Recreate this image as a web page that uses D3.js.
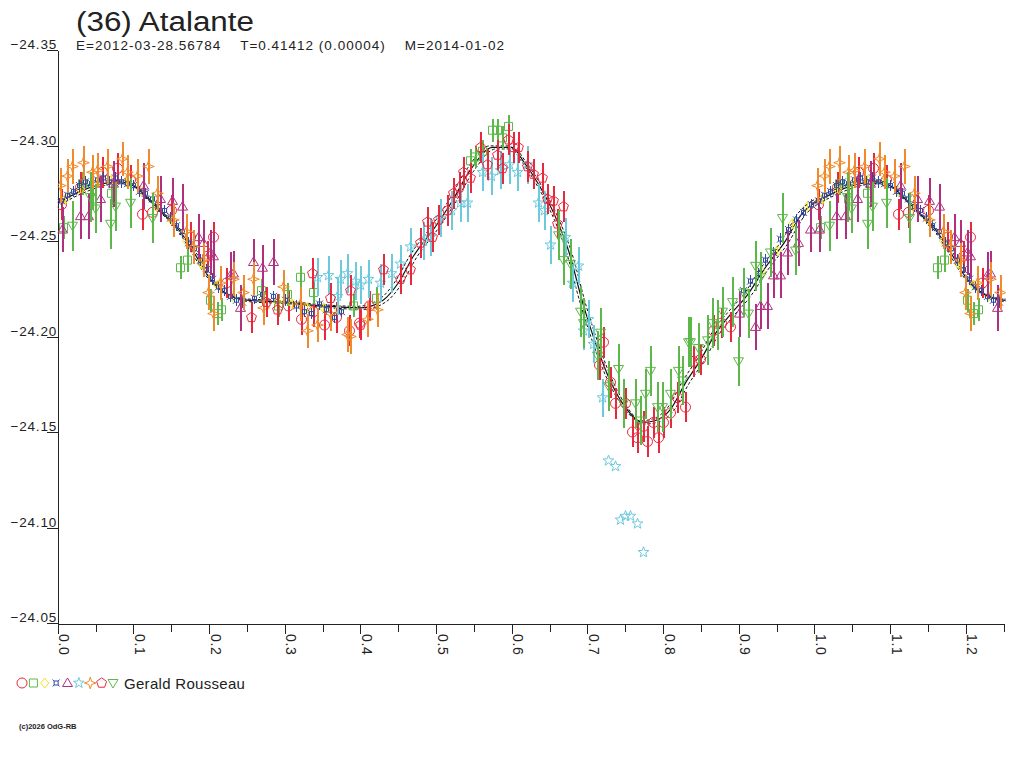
<!DOCTYPE html>
<html><head><meta charset="utf-8">
<script src="https://cdn.jsdelivr.net/npm/d3@7"></script>
<style>
body{margin:0;background:#fff}
svg{display:block}
text{font-family:"Liberation Sans",Arial,sans-serif;fill:#222}
</style>
</head><body>
<svg id="chart" width="1024" height="768"></svg>
<script>
// ---------- DATA ----------
const titleText = "(36) Atalante";
const subtitleText = "E=2012-03-28.56784    T=0.41412 (0.00004)    M=2014-01-02";
const observerName = "Gerald Rousseau";
const copyrightText = "(c)2026 OdG-RB";

const yTickValues = [-24.35, -24.30, -24.25, -24.20, -24.15, -24.10, -24.05];
const xMajorTicks = [0.0,0.1,0.2,0.3,0.4,0.5,0.6,0.7,0.8,0.9,1.0,1.1,1.2];
const xMinorTicks = [0.05,0.15,0.25,0.35,0.45,0.55,0.65,0.75,0.85,0.95,1.05,1.15,1.25];

// fitted light curve (phase, magnitude)
const curvePhase = [0.00,0.03,0.06,0.08,0.10,0.12,0.14,0.16,0.18,0.20,0.22,0.25,0.30,0.35,0.40,0.43,0.45,0.47,0.50,0.52,0.545,0.575,0.60,0.615,0.635,0.655,0.675,0.695,0.713,0.73,0.75,0.773,0.79,0.81,0.83,0.85,0.87,0.89,0.91,0.935,0.96,0.985,1.00];
const curveMag = [-24.270,-24.276,-24.280,-24.281,-24.279,-24.272,-24.264,-24.256,-24.244,-24.231,-24.223,-24.219,-24.218,-24.216,-24.215,-24.219,-24.228,-24.242,-24.258,-24.270,-24.287,-24.299,-24.299,-24.292,-24.280,-24.265,-24.245,-24.216,-24.194,-24.177,-24.163,-24.155,-24.156,-24.162,-24.176,-24.188,-24.202,-24.212,-24.221,-24.236,-24.249,-24.265,-24.270];

// observations per session: [phase, magnitude]
const redCircle = [[0.005,-24.269],[0.030,-24.278],[0.058,-24.286],[0.078,-24.288],[0.095,-24.282],[0.111,-24.264],[0.124,-24.265],[0.150,-24.266],[0.175,-24.252],[0.197,-24.242],[0.205,-24.252],[0.222,-24.228],
 [0.305,-24.216],[0.322,-24.209],[0.338,-24.213],[0.352,-24.206],[0.368,-24.210],[0.385,-24.203],[0.398,-24.207],[0.412,-24.216],
 [0.715,-24.185],[0.721,-24.197],[0.730,-24.176],[0.736,-24.165],[0.750,-24.165],[0.759,-24.150],[0.766,-24.147],[0.773,-24.153],[0.779,-24.145],[0.787,-24.155],[0.793,-24.147],[0.800,-24.155],[0.809,-24.160],[0.818,-24.168],[0.829,-24.163],[0.840,-24.187],[0.849,-24.188],[0.866,-24.203],[0.876,-24.207],[0.888,-24.205]];
const greenSquare = [[0.007,-24.257],[0.032,-24.280],[0.045,-24.272],[0.070,-24.275],[0.162,-24.236],[0.171,-24.240],[0.201,-24.219],[0.210,-24.212],[0.216,-24.214],[0.269,-24.224],[0.291,-24.216],[0.303,-24.222],[0.320,-24.231],[0.338,-24.223],[0.390,-24.216],[0.420,-24.220],[0.545,-24.292],[0.551,-24.294],[0.561,-24.297],[0.574,-24.308],[0.581,-24.308],[0.587,-24.304],[0.595,-24.310]];
const yellowDiamond = [[0.010,-24.272],[0.030,-24.277],[0.050,-24.280],[0.070,-24.282],[0.090,-24.281],[0.110,-24.276],[0.130,-24.268],[0.150,-24.261],[0.170,-24.250],[0.190,-24.238],[0.210,-24.227],[0.230,-24.221],[0.290,-24.218],[0.310,-24.217],[0.330,-24.215],[0.350,-24.215],[0.370,-24.214],[0.930,-24.234],[0.950,-24.245],[0.970,-24.259],[0.990,-24.268]];
const blueCross = [[0.005,-24.271],[0.012,-24.274],[0.020,-24.276],[0.028,-24.279],[0.036,-24.281],[0.044,-24.280],[0.052,-24.282],[0.060,-24.283],[0.068,-24.281],[0.076,-24.283],[0.084,-24.281],[0.092,-24.280],[0.100,-24.279],[0.108,-24.276],[0.116,-24.275],[0.124,-24.272],[0.132,-24.268],[0.140,-24.266],[0.148,-24.262],[0.156,-24.258],[0.164,-24.255],[0.172,-24.249],[0.180,-24.246],[0.188,-24.240],[0.196,-24.235],[0.204,-24.230],[0.212,-24.226],[0.220,-24.224],[0.228,-24.221],[0.236,-24.219],[0.244,-24.218],
 [0.260,-24.220],[0.270,-24.222],[0.285,-24.221],[0.300,-24.219],[0.315,-24.216],[0.325,-24.213],[0.335,-24.212],[0.345,-24.217],[0.355,-24.214],[0.365,-24.210],[0.375,-24.213],
 [0.905,-24.224],[0.915,-24.229],[0.925,-24.233],[0.935,-24.240],[0.945,-24.244],[0.955,-24.251],[0.965,-24.256],[0.975,-24.261],[0.985,-24.265],[0.995,-24.269]];
const purpleTriangle = [[0.006,-24.256],[0.029,-24.263],[0.040,-24.263],[0.056,-24.272],[0.073,-24.280],[0.113,-24.279],[0.135,-24.272],[0.151,-24.271],[0.164,-24.268],[0.185,-24.252],[0.192,-24.249],[0.201,-24.244],[0.205,-24.242],[0.228,-24.232],[0.232,-24.233],[0.241,-24.215],[0.258,-24.239],[0.270,-24.236],[0.285,-24.239],
 [0.900,-24.212],[0.921,-24.205],[0.928,-24.216],[0.937,-24.216],[0.945,-24.232],[0.954,-24.232],[0.964,-24.244],[0.978,-24.249],[0.994,-24.256]];
const cyanStar = [[0.343,-24.231],[0.357,-24.232],[0.369,-24.221],[0.373,-24.230],[0.382,-24.233],[0.393,-24.229],[0.400,-24.227],[0.410,-24.230],[0.426,-24.228],[0.440,-24.233],[0.452,-24.238],[0.466,-24.247],[0.483,-24.250],[0.492,-24.252],[0.505,-24.262],[0.520,-24.266],[0.532,-24.270],[0.541,-24.270],[0.561,-24.286],[0.572,-24.284],[0.584,-24.287],[0.597,-24.290],[0.607,-24.286],[0.620,-24.290],[0.635,-24.270],[0.642,-24.266],[0.651,-24.248],[0.670,-24.252],[0.680,-24.228],[0.688,-24.237],[0.694,-24.203],[0.701,-24.209],[0.707,-24.196],[0.719,-24.168]];
const cyanOutliers = [[0.727,-24.135],[0.737,-24.132],[0.743,-24.104],[0.750,-24.106],[0.756,-24.106],[0.765,-24.102],[0.773,-24.087]];
const orangeStar = [[0.003,-24.279],[0.012,-24.284],[0.019,-24.289],[0.033,-24.291],[0.045,-24.286],[0.052,-24.287],[0.065,-24.289],[0.085,-24.293],[0.092,-24.286],[0.105,-24.284],[0.119,-24.289],[0.131,-24.275],[0.152,-24.261],[0.170,-24.255],[0.179,-24.247],[0.192,-24.240],[0.199,-24.223],[0.205,-24.212],[0.215,-24.228],[0.232,-24.230],[0.245,-24.223],
 [0.258,-24.230],[0.271,-24.215],[0.298,-24.226],[0.320,-24.217],[0.329,-24.203],[0.343,-24.206],[0.360,-24.212],[0.382,-24.201],[0.386,-24.200],[0.409,-24.209],[0.422,-24.214]];
const redPentagon = [[0.256,-24.210],[0.275,-24.218],[0.290,-24.214],[0.336,-24.233],[0.360,-24.220],[0.386,-24.224],[0.399,-24.206],[0.430,-24.235],[0.452,-24.230],[0.466,-24.235],[0.479,-24.249],[0.488,-24.260],[0.494,-24.252],[0.503,-24.261],[0.514,-24.266],[0.523,-24.275],[0.530,-24.278],[0.536,-24.286],[0.545,-24.283],[0.558,-24.299],[0.567,-24.290],[0.581,-24.295],[0.587,-24.288],[0.595,-24.303],[0.602,-24.299],[0.608,-24.299],[0.620,-24.289],[0.628,-24.285],[0.640,-24.283],[0.646,-24.272],[0.655,-24.271],[0.660,-24.259],[0.668,-24.268]];
const greenDownTriangle = [[0.019,-24.258],[0.043,-24.273],[0.049,-24.267],[0.069,-24.259],[0.076,-24.268],[0.095,-24.270],[0.125,-24.262],
 [0.661,-24.253],[0.668,-24.240],[0.677,-24.238],[0.690,-24.213],[0.694,-24.207],[0.713,-24.190],[0.717,-24.202],[0.727,-24.174],[0.741,-24.183],[0.747,-24.165],[0.763,-24.165],[0.769,-24.156],[0.776,-24.170],[0.783,-24.182],[0.792,-24.163],[0.799,-24.163],[0.809,-24.170],[0.820,-24.182],[0.825,-24.177],[0.833,-24.197],[0.836,-24.197],[0.846,-24.194],[0.858,-24.198],[0.864,-24.207],[0.871,-24.206],[0.878,-24.213],[0.891,-24.218],[0.899,-24.187],[0.906,-24.223],[0.912,-24.212],[0.921,-24.237],[0.928,-24.231],[0.941,-24.244],[0.957,-24.262],[0.974,-24.245]];

// error bar half-length (mag) per session, in legend order
const seriesErr = [0.008, 0.006, 0.002, 0.003, 0.012, 0.010, 0.009, 0.008, 0.013];

// ---------- STYLE ----------
const sessions = [
  {data: redCircle, color: "#e8283c", shape: "circle"},
  {data: greenSquare, color: "#5cb848", shape: "square"},
  {data: yellowDiamond, color: "#f0e41c", shape: "diamond"},
  {data: blueCross, color: "#3048a0", shape: "cross"},
  {data: purpleTriangle, color: "#b0307f", shape: "triangle"},
  {data: cyanStar, color: "#6ccadc", shape: "star"},
  {data: orangeStar, color: "#f08a2a", shape: "star4"},
  {data: redPentagon, color: "#e8283c", shape: "pentagon"},
  {data: greenDownTriangle, color: "#5cb848", shape: "downtri"}
];
sessions.forEach((s,i)=> s.err = seriesErr[i]);

function polyPath(n, rOut, rIn, rot){
  const p=[]; const m = rIn ? 2*n : n;
  for(let k=0;k<m;k++){const r=(rIn && k%2)?rIn:rOut, a=rot+k*2*Math.PI/m; p.push([r*Math.cos(a),r*Math.sin(a)]);}
  return "M"+p.map(q=>q[0].toFixed(2)+","+q[1].toFixed(2)).join("L")+"Z";
}
const shapePath = {
  circle: "M5,0A5,5 0 1,1 -5,0A5,5 0 1,1 5,0Z",
  square: "M-4,-4H4V4H-4Z",
  diamond: "M0,-5L4,0L0,5L-4,0Z",
  cross: "M-2,-2H2V2H-2Z M-2,-2L-3.5,-3.5 M2,-2L3.5,-3.5 M2,2L3.5,3.5 M-2,2L-3.5,3.5",
  triangle: "M0,-5L5,3.5L-5,3.5Z",
  star: polyPath(5, 5.6, 2.3, -Math.PI/2),
  star4: polyPath(4, 5.8, 2.1, -Math.PI/2),
  pentagon: polyPath(5, 5.2, 0, -Math.PI/2),
  downtri: "M0,5L5,-3.5L-5,-3.5Z"
};

// ---------- CHART ----------
const svg = d3.select("#chart");
const x = d3.scaleLinear().domain([0, 1.25]).range([57.7, 1003.6]);
const y = d3.scaleLinear().domain([-24.35, -24.05]).range([50, 623]);

// title
svg.append("text").attr("x", 76).attr("y", 31).attr("font-size", 27)
  .attr("textLength", 178).attr("lengthAdjust", "spacingAndGlyphs").text(titleText);
svg.append("text").attr("x", 76).attr("y", 49.5).attr("font-size", 13.5)
  .attr("xml:space", "preserve").style("white-space", "pre")
  .attr("textLength", 428).attr("lengthAdjust", "spacing").text(subtitleText);

// clip region for plot
svg.append("clipPath").attr("id","plotclip").append("rect")
  .attr("x", x(0)).attr("y", 0).attr("width", x(1.25)-x(0)+2).attr("height", 640);

// Y axis
const yAxis = svg.append("g").attr("transform", "translate(57.5,0)")
  .call(d3.axisLeft(y).tickValues(yTickValues).tickSize(11).tickSizeOuter(0).tickFormat(d3.format(".2f")));
yAxis.select(".domain").attr("stroke", "#222").attr("shape-rendering","crispEdges");
yAxis.selectAll(".tick line").attr("stroke", "#222").attr("shape-rendering","crispEdges");
yAxis.selectAll(".tick text").attr("x", -0.5).attr("dy", null).attr("y", -1.5)
  .attr("font-size", 13.5).attr("letter-spacing", 0.8).attr("text-anchor","end").style("font-family", '"Liberation Sans",Arial,sans-serif').attr("fill","#222");

// X axis (major + minor)
const xAxisMajor = svg.append("g").attr("transform", "translate(0,623.5)")
  .call(d3.axisBottom(x).tickValues(xMajorTicks).tickSize(10).tickSizeOuter(0).tickFormat(""));
xAxisMajor.select(".domain").attr("stroke", "#222").attr("shape-rendering","crispEdges");
xAxisMajor.selectAll(".tick line").attr("stroke", "#222").attr("shape-rendering","crispEdges");
const xAxisMinor = svg.append("g").attr("transform", "translate(0,623.5)")
  .call(d3.axisBottom(x).tickValues(xMinorTicks).tickSize(8).tickSizeOuter(0).tickFormat(""));
xAxisMinor.select(".domain").remove();
xAxisMinor.selectAll(".tick line").attr("stroke", "#222").attr("shape-rendering","crispEdges");

svg.append("g").selectAll("text").data(xMajorTicks).join("text")
  .attr("transform", d => `translate(${x(d)+1.5},634) rotate(90)`)
  .attr("font-size", 14).attr("letter-spacing", 0.6)
  .text(d => d3.format(".1f")(d));

// fitted curve, repeated over the extra phase range
const plot = svg.append("g").attr("clip-path", "url(#plotclip)");
const curvePts = curvePhase.map((p,i)=>[p, curveMag[i]]);
const line = d3.line().x(d=>x(d[0])).y(d=>y(d[1])).curve(d3.curveMonotoneX);
[[0.004,"3,2"],[-0.004,"3,2"],[0,null]].forEach(([shift,dash])=>{
  [0,1].forEach(cycle=>{
    plot.append("path").datum(curvePts.map(d=>[d[0]+cycle+shift, d[1]+(shift? (shift>0?0.0008:-0.0008):0)]))
      .attr("d", line).attr("fill","none").attr("stroke","#111")
      .attr("stroke-width", dash?1:1.2).attr("stroke-dasharray", dash);
  });
});

// observation points with error bars (phases < 0.25 are repeated after 1.0)
function expand(data){
  const out=[];
  data.forEach(d=>{ out.push([d[0],d[1]]); if(d[0]+1<=1.25) out.push([d[0]+1,d[1]]); });
  return out;
}
sessions.forEach(s=>{
  const g = plot.append("g");
  const pts = expand(s.data);
  g.selectAll("line").data(pts).join("line")
    .attr("x1",d=>Math.round(x(d[0]))+0.5).attr("x2",d=>Math.round(x(d[0]))+0.5)
    .attr("y1",d=>y(d[1]-s.err)).attr("y2",d=>y(d[1]+s.err))
    .attr("stroke",s.color).attr("stroke-width", s.err<=0.003?1:2).attr("shape-rendering","crispEdges");
  g.selectAll("path").data(pts).join("path")
    .attr("transform",d=>`translate(${Math.round(x(d[0]))+0.5},${y(d[1])})`)
    .attr("d",shapePath[s.shape]).attr("fill","none").attr("stroke",s.color).attr("stroke-width",1);
});
// cyan outliers (no error estimate)
plot.append("g").selectAll("path").data(cyanOutliers).join("path")
  .attr("transform",d=>`translate(${Math.round(x(d[0]))+0.5},${y(d[1])})`)
  .attr("d",shapePath.star).attr("fill","none").attr("stroke","#6ccadc").attr("stroke-width",1);

// legend
const legend = svg.append("g").attr("transform","translate(0,683)");
const legendX = d3.scalePoint().domain(d3.range(sessions.length)).range([22,113]);
legend.selectAll("path").data(sessions).join("path")
  .attr("transform",(d,i)=>`translate(${legendX(i)},0)`)
  .attr("d",d=>shapePath[d.shape]).attr("fill","none").attr("stroke",d=>d.color).attr("stroke-width",1);
legend.append("text").attr("x",124).attr("y",6).attr("font-size",15).attr("letter-spacing",0.3).text(observerName);

// copyright
svg.append("text").attr("x",19).attr("y",729).attr("font-size",7.5).attr("font-weight","bold").text(copyrightText);
</script>
</body></html>
